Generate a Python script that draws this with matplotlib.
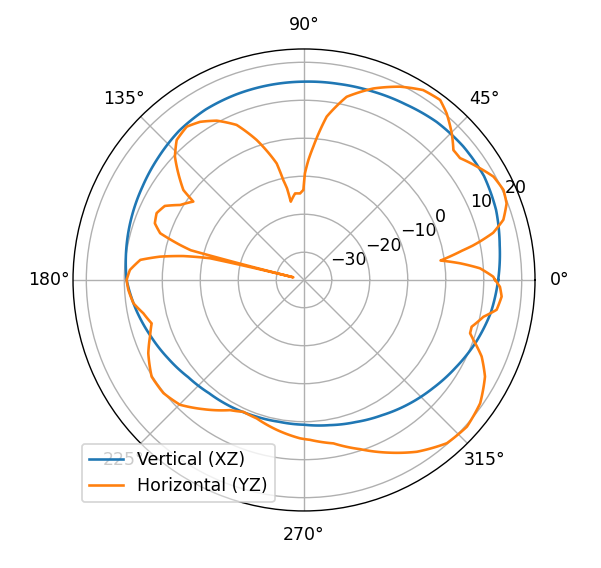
import numpy as np
from matplotlib import pyplot as pl

# radiation pattern (angle in degrees, gain in dB)
vert_deg = [0, 10, 20, 30, 40, 50, 60, 70, 80, 90, 100, 110, 120, 130, 140, 150,
            160, 170, 180, 190, 200, 210, 220, 230, 240, 250, 260, 270, 280, 290,
            300, 310, 320, 330, 340, 350, 360]
vert_db = [13.8, 15.0, 16.5, 17.4, 17.4, 17.0, 16.1, 15.5, 15.1, 14.9, 14.8, 14.7,
           14.5, 13.9, 12.8, 11.8, 11.0, 10.2, 9.4, 7.6, 5.7, 4.0, 2.5, 1.6, 1.2,
           0.8, 0.6, 0.8, 1.5, 2.5, 3.8, 5.4, 7.0, 8.8, 10.8, 12.6, 13.8]

horiz_deg = [0, 1, 3.8, 6.1, 8.1, 9.5, 10.5, 11.5, 12.5, 14.0, 16.8, 20.7, 24.3,
             28.6, 33.3, 38.0, 41.0, 44.8, 49.4, 52.9, 57.9, 63.6, 70.1, 76.9,
             82.1, 86.0, 87.9, 89.5, 90.4, 92.6, 95.9, 99.6, 100.5, 101.7, 103.2,
             108.7, 113.5, 118.7, 123.3, 127.4, 132.3, 136.3, 141.1, 143.3, 144.7,
             148.8, 152.0, 155.6, 159.2, 162.0, 164.2, 165.3, 166.1, 167.0, 168.8,
             170.8, 173.0, 176.7, 180, 183.3, 187.8, 191.7, 195.9, 200.2, 205.2,
             212.4, 218.8, 225.2, 232.1, 240.4, 245.3, 251.1, 259.7, 268.6, 272.1,
             280.2, 288.3, 296.5, 303.3, 311.2, 318.0, 325.0, 331.9, 336.7, 340.5,
             342.2, 344.4, 348.4, 351.2, 355.2, 358.0, 360]
horiz_db = [13.0, 12.5, 9.1, 4.0, -1.0, 2.5, 5.0, 8.0, 10.5, 14.0, 17.5, 19.7, 20.3,
            19.5, 17.1, 14.8, 14.8, 17.5, 20.4, 22.1, 21.7, 19.5, 16.3, 12.2,
            6.1, -2.1, -5.7, -9.2, -13.6, -14.5, -14.4, -16.4, -12.8, -10.5, -5.8,
            1.6, 7.2, 10.5, 12.5, 13.5, 12.5, 9.7, 4.6, 2.3, -1.6,
            0.8, 4.2, 5.3, 4.7, 2.5, -3.3, -6.5, -34.4, -11.9, -4.9,
            1.1, 6.1, 8.6, 9.4, 9.0, 8.0, 5.9, 4.4, 5.9, 8.0,
            10.2, 10.2, 9.0, 5.8, 2.1, 0.9, 1.2, 2.8, 4.4, 4.8,
            6.4, 9.6, 13.5, 16.8, 19.8, 20.4, 19.3, 16.7, 13.6, 10.0,
            8.6, 8.5, 10.9, 14.0, 14.9, 14.3, 13.0]

r_ticks = [-30, -20, -10, 0, 10, 20]

fig = pl.figure(figsize=(601 / 125, 568 / 125), dpi=125)
ax = fig.add_axes([0.1215, 0.1004, 0.7687, 0.8134], projection='polar')

lines = []
lines += ax.plot(np.radians(vert_deg), vert_db, label='Vertical (XZ)')
lines += ax.plot(np.radians(horiz_deg), horiz_db, label='Horizontal (YZ)')
# draw segments as arcs in polar space rather than straight chords
for ln in lines:
    ln.get_path()._interpolation_steps = 16

ax.set_rlim(-37.3, 23.5)
ax.set_rticks(r_ticks)
ax.grid(True)
ax.legend(loc='lower left')

fig.savefig('out.png', dpi=125)
